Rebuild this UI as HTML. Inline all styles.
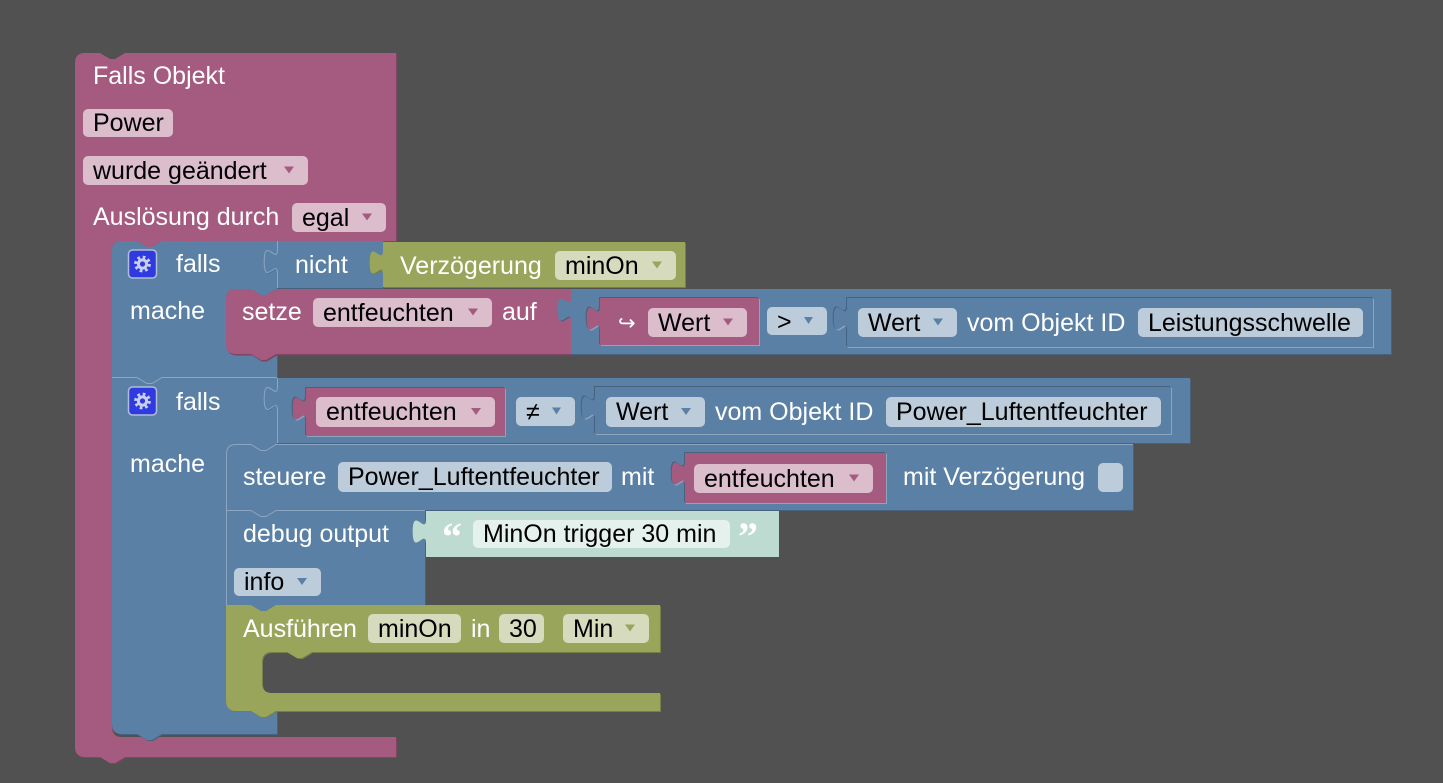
<!DOCTYPE html>
<html><head><meta charset="utf-8">
<style>
html,body{margin:0;padding:0;background:#515151;}
svg{display:block}
text{font-family:"Liberation Sans",Arial,sans-serif;font-size:25px}
.l{fill:#fff}
.f{fill:#000}
</style></head><body>
<svg width="1443" height="783" viewBox="0 0 1443 783" xmlns="http://www.w3.org/2000/svg">
<rect width="1443" height="783" fill="#515151"/>

<!-- Pink main event block -->
<path transform="translate(1,1)" fill="#7f4563" d="M75,63 Q75,53 85,53 L100,53 L110,59 L115,59 L125,53 L396,53 L396,241 L162,241 L152,247 L147,247 L137,241 L122,241 Q112,241 112,251 L112,727 Q112,737 122,737 L396,737 L396,757 L125,757 L115,763 L110,763 L100,757 L85,757 Q75,757 75,747 Z"/>
<path fill="#a55b80" d="M75,63 Q75,53 85,53 L100,53 L110,59 L115,59 L125,53 L396,53 L396,241 L162,241 L152,247 L147,247 L137,241 L122,241 Q112,241 112,251 L112,727 Q112,737 122,737 L396,737 L396,757 L125,757 L115,763 L110,763 L100,757 L85,757 Q75,757 75,747 Z"/>

<!-- Blue falls-1 -->
<path transform="translate(1,1)" fill="#46627f" d="M112,251 Q112,241 122,241 L137,241 L147,247 L152,247 L162,241 L277,241 L277,289 L276,289 L266,295 L261,295 L251,289 L236,289 Q226,289 226,299 L226,344 Q226,354 236,354 L277,354 L277,377 L162,377 L152,383 L147,383 L137,377 L112,377 Z"/>
<path fill="#5b80a5" d="M112,251 Q112,241 122,241 L137,241 L147,247 L152,247 L162,241 L277,241 L277,289 L276,289 L266,295 L261,295 L251,289 L236,289 Q226,289 226,299 L226,344 Q226,354 236,354 L277,354 L277,377 L162,377 L152,383 L147,383 L137,377 L112,377 Z"/>

<!-- nicht -->
<path transform="translate(1,1)" fill="#46627f" d="M277,241H383V288H277V274c0,-16.7 -13.3,13.3 -13.3,-12.5s13.3,4.2 13.3,-12.5Z"/>
<path fill="#5b80a5" d="M277,241H383V288H277V274c0,-16.7 -13.3,13.3 -13.3,-12.5s13.3,4.2 13.3,-12.5Z"/>
<path fill="none" stroke="#8ca6c0" stroke-width="1" d="M277.5,241V249c0,16.7 -13.3,-13.3 -13.3,12.5s13.3,-4.2 13.3,12.5V288"/>

<!-- Verzögerung olive -->
<path transform="translate(1,1)" fill="#757f46" d="M383,242H685V287H383V275c0,-16.7 -13.3,13.3 -13.3,-12.5s13.3,4.2 13.3,-12.5Z"/>
<path fill="#99a55b" d="M383,242H685V287H383V275c0,-16.7 -13.3,13.3 -13.3,-12.5s13.3,4.2 13.3,-12.5Z"/>

<!-- setze pink -->
<path transform="translate(1,1.5)" fill="#7f4563" d="M226,299 Q226,289 236,289 L251,289 L261,295 L266,295 L276,289 L571,289 L571,354 L276,354 L266,360 L261,360 L251,354 L236,354 Q226,354 226,344 Z"/>
<path fill="#a55b80" d="M226,299 Q226,289 236,289 L251,289 L261,295 L266,295 L276,289 L571,289 L571,354 L276,354 L266,360 L261,360 L251,354 L236,354 Q226,354 226,344 Z"/>

<!-- comparison 1 -->
<path transform="translate(1,1)" fill="#46627f" d="M571,289H1391V354H571V322c0,-16.7 -13.3,13.3 -13.3,-12.5s13.3,4.2 13.3,-12.5Z"/>
<path fill="#5b80a5" d="M571,289H1391V354H571V322c0,-16.7 -13.3,13.3 -13.3,-12.5s13.3,4.2 13.3,-12.5Z"/>

<!-- Wert pink (inline) -->
<path transform="translate(1,1)" fill="#8ca6c0" d="M600,298H759V345H600V331c0,-16.7 -13.3,13.3 -13.3,-12.5s13.3,4.2 13.3,-12.5Z"/>
<path transform="translate(-1,-1)" fill="#46627f" d="M600,298H759V345H600V331c0,-16.7 -13.3,13.3 -13.3,-12.5s13.3,4.2 13.3,-12.5Z"/>
<path fill="#a55b80" d="M600,298H759V345H600V331c0,-16.7 -13.3,13.3 -13.3,-12.5s13.3,4.2 13.3,-12.5Z"/>

<!-- inner blue 1 -->
<path transform="translate(1,1)" fill="#8ca6c0" d="M847,298H1373V347H847V331c0,-16.7 -13.3,13.3 -13.3,-12.5s13.3,4.2 13.3,-12.5Z"/>
<path transform="translate(-1,-1)" fill="#46627f" d="M847,298H1373V347H847V331c0,-16.7 -13.3,13.3 -13.3,-12.5s13.3,4.2 13.3,-12.5Z"/>
<path fill="#5b80a5" d="M847,298H1373V347H847V331c0,-16.7 -13.3,13.3 -13.3,-12.5s13.3,4.2 13.3,-12.5Z"/>

<!-- Blue falls-2 -->
<path transform="translate(1,1)" fill="#46627f" d="M112,377 L137,377 L147,383 L152,383 L162,377 L277,377 L277,444 L276,444 L266,450 L261,450 L251,444 L236,444 Q226,444 226,454 L226,701 Q226,711 236,711 L277,711 L277,734 L162,734 L152,740 L147,740 L137,734 L122,734 Q112,734 112,724 Z"/>
<path fill="#5b80a5" d="M112,377 L137,377 L147,383 L152,383 L162,377 L277,377 L277,444 L276,444 L266,450 L261,450 L251,444 L236,444 Q226,444 226,454 L226,701 Q226,711 236,711 L277,711 L277,734 L162,734 L152,740 L147,740 L137,734 L122,734 Q112,734 112,724 Z"/>
<path fill="none" stroke="#8ca6c0" stroke-width="1" d="M112,377.5 L137,377.5 L147,383.5 L152,383.5 L162,377.5 L277,377.5"/>

<!-- comparison 2 -->
<path transform="translate(1,1)" fill="#46627f" d="M277,378H1190V443H277V411c0,-16.7 -13.3,13.3 -13.3,-12.5s13.3,4.2 13.3,-12.5Z"/>
<path fill="#5b80a5" d="M277,378H1190V443H277V411c0,-16.7 -13.3,13.3 -13.3,-12.5s13.3,4.2 13.3,-12.5Z"/>
<path fill="none" stroke="#8ca6c0" stroke-width="1" d="M277.5,378V386c0,16.7 -13.3,-13.3 -13.3,12.5s13.3,-4.2 13.3,12.5V443"/>

<!-- entfeuchten pink 2 (inline) -->
<path transform="translate(1,1)" fill="#8ca6c0" d="M306,388H505V436H306V421c0,-16.7 -13.3,13.3 -13.3,-12.5s13.3,4.2 13.3,-12.5Z"/>
<path transform="translate(-1,-1)" fill="#46627f" d="M306,388H505V436H306V421c0,-16.7 -13.3,13.3 -13.3,-12.5s13.3,4.2 13.3,-12.5Z"/>
<path fill="#a55b80" d="M306,388H505V436H306V421c0,-16.7 -13.3,13.3 -13.3,-12.5s13.3,4.2 13.3,-12.5Z"/>

<!-- inner blue 2 -->
<path transform="translate(1,1)" fill="#8ca6c0" d="M595,387H1171V434H595V420c0,-16.7 -13.3,13.3 -13.3,-12.5s13.3,4.2 13.3,-12.5Z"/>
<path transform="translate(-1,-1)" fill="#46627f" d="M595,387H1171V434H595V420c0,-16.7 -13.3,13.3 -13.3,-12.5s13.3,4.2 13.3,-12.5Z"/>
<path fill="#5b80a5" d="M595,387H1171V434H595V420c0,-16.7 -13.3,13.3 -13.3,-12.5s13.3,4.2 13.3,-12.5Z"/>

<!-- steuere -->
<path transform="translate(1,1)" fill="#46627f" d="M226,454 Q226,444 236,444 L251,444 L261,450 L266,450 L276,444 L1133,444 L1133,510 L276,510 L266,516 L261,516 L251,510 L226,510 Z"/>
<path fill="#5b80a5" d="M226,454 Q226,444 236,444 L251,444 L261,450 L266,450 L276,444 L1133,444 L1133,510 L276,510 L266,516 L261,516 L251,510 L226,510 Z"/>
<path fill="none" stroke="#8ca6c0" stroke-width="1" d="M226.5,510V454 Q226.5,444.5 236,444.5 L251,444.5 L261,450.5 L266,450.5 L276,444.5 L1133,444.5"/>

<!-- entfeuchten pink 3 (inline) -->
<path transform="translate(1,1)" fill="#8ca6c0" d="M685,453H886V503H685V486c0,-16.7 -13.3,13.3 -13.3,-12.5s13.3,4.2 13.3,-12.5Z"/>
<path transform="translate(-1,-1)" fill="#46627f" d="M685,453H886V503H685V486c0,-16.7 -13.3,13.3 -13.3,-12.5s13.3,4.2 13.3,-12.5Z"/>
<path fill="#a55b80" d="M685,453H886V503H685V486c0,-16.7 -13.3,13.3 -13.3,-12.5s13.3,4.2 13.3,-12.5Z"/>

<!-- debug -->
<path transform="translate(1,1)" fill="#46627f" d="M226,510 L251,510 L261,516 L266,516 L276,510 L425,510 L425,605 L276,605 L266,611 L261,611 L251,605 L226,605 Z"/>
<path fill="#5b80a5" d="M226,510 L251,510 L261,516 L266,516 L276,510 L425,510 L425,605 L276,605 L266,611 L261,611 L251,605 L226,605 Z"/>
<path fill="none" stroke="#8ca6c0" stroke-width="1" d="M226.5,605V510.5 L251,510.5 L261,516.5 L266,516.5 L276,510.5 L425,510.5"/>

<!-- mint text shadow block -->
<path fill="#bddbd1" d="M426,511H779V557H426V544c0,-16.7 -13.3,13.3 -13.3,-12.5s13.3,4.2 13.3,-12.5Z"/>

<!-- Ausführen olive -->
<path transform="translate(1,1)" fill="#757f46" d="M226,605 L251,605 L261,611 L266,611 L276,605 L660,605 L660,652 L312,652 L302,658 L297,658 L287,652 L272,652 Q262,652 262,662 L262,683 Q262,693 272,693 L660,693 L660,711 L276,711 L266,717 L261,717 L251,711 L236,711 Q226,711 226,701 Z"/>
<path fill="#99a55b" d="M226,605 L251,605 L261,611 L266,611 L276,605 L660,605 L660,652 L312,652 L302,658 L297,658 L287,652 L272,652 Q262,652 262,662 L262,683 Q262,693 272,693 L660,693 L660,711 L276,711 L266,717 L261,717 L251,711 L236,711 Q226,711 226,701 Z"/>

<!-- gear icons -->
<g transform="translate(142.5,264)">
<rect x="-14" y="-14" width="28" height="28" rx="4" fill="#2f3be0" stroke="#b0bcd8" stroke-width="1.5"/>
<circle r="6.8" fill="none" stroke="#c8d0ee" stroke-width="3.2" stroke-dasharray="2.67 2.67"/>
<circle r="5.6" fill="#c8d0ee"/>
<circle r="2.6" fill="#2f3be0"/>
</g>
<g transform="translate(142.5,401)">
<rect x="-14" y="-14" width="28" height="28" rx="4" fill="#2f3be0" stroke="#b0bcd8" stroke-width="1.5"/>
<circle r="6.8" fill="none" stroke="#c8d0ee" stroke-width="3.2" stroke-dasharray="2.67 2.67"/>
<circle r="5.6" fill="#c8d0ee"/>
<circle r="2.6" fill="#2f3be0"/>
</g>

<!-- Pink fields -->
<g fill="#dbbdcc">
<rect x="83" y="109" width="90" height="28" rx="5"/>
<rect x="83" y="156" width="225" height="29" rx="5"/>
<rect x="292" y="203" width="94" height="29" rx="5"/>
<rect x="313" y="298" width="179" height="29" rx="5"/>
<rect x="648" y="308" width="99" height="29" rx="5"/>
<rect x="316" y="397" width="179" height="30" rx="5"/>
<rect x="694" y="464" width="179" height="29" rx="5"/>
</g>
<g fill="#a55b80">
<polygon points="284,166.5 294,166.5 289,173.5"/>
<polygon points="362,213.5 372,213.5 367,220.5"/>
<polygon points="468,308.5 478,308.5 473,315.5"/>
<polygon points="723,318.5 733,318.5 728,325.5"/>
<polygon points="471,408 481,408 476,415"/>
<polygon points="849,474.5 859,474.5 854,481.5"/>
</g>

<!-- Blue fields -->
<g fill="#bdccdb">
<rect x="767" y="307" width="60" height="28" rx="5"/>
<rect x="858" y="308" width="99" height="29" rx="5"/>
<rect x="1138" y="308" width="225" height="29" rx="5"/>
<rect x="516" y="397" width="59" height="29" rx="5"/>
<rect x="606" y="397" width="99" height="30" rx="5"/>
<rect x="886" y="397" width="275" height="30" rx="5"/>
<rect x="338" y="462" width="274" height="30" rx="5"/>
<rect x="1098" y="463" width="25" height="29" rx="5"/>
<rect x="234" y="568" width="87" height="28" rx="5"/>
</g>
<g fill="#5b80a5">
<polygon points="804,317 813,317 808.5,324"/>
<polygon points="933,318.5 943,318.5 938,325.5"/>
<polygon points="552,407.5 561,407.5 556.5,414.5"/>
<polygon points="681,408 691,408 686,415"/>
<polygon points="297,578 307,578 302,585"/>
</g>

<!-- Olive fields -->
<g fill="#d6dbbd">
<rect x="555" y="251" width="121" height="29" rx="5"/>
<rect x="368" y="614" width="93" height="29" rx="5"/>
<rect x="499" y="614" width="45" height="29" rx="5"/>
<rect x="563" y="614" width="86" height="29" rx="5"/>
</g>
<g fill="#99a55b">
<polygon points="652,261.5 662,261.5 657,268.5"/>
<polygon points="625,624.5 635,624.5 630,631.5"/>
</g>

<!-- Mint field -->
<rect x="473" y="520" width="257" height="28" rx="5" fill="#e5f1ed"/>
<text x="442" y="550" style="font-family:'Liberation Serif',serif;font-weight:bold;font-size:40px" fill="#fff">“</text>
<text x="738" y="550" style="font-family:'Liberation Serif',serif;font-weight:bold;font-size:40px" fill="#fff">”</text>

<!-- White labels -->
<text class="l" x="93" y="84">Falls Objekt</text>
<text class="l" x="93" y="225">Auslösung durch</text>
<text class="l" x="176" y="272">falls</text>
<text class="l" x="295" y="273">nicht</text>
<text class="l" x="400" y="274">Verzögerung</text>
<text class="l" x="130" y="319">mache</text>
<text class="l" x="242" y="320">setze</text>
<text class="l" x="502" y="320">auf</text>
<text x="618" y="330" style="font-family:'DejaVu Sans',sans-serif;font-size:21px" fill="#fff">↪</text>
<text class="l" x="967" y="331">vom Objekt ID</text>
<text class="l" x="176" y="410">falls</text>
<text class="l" x="715" y="420">vom Objekt ID</text>
<text class="l" x="130" y="472">mache</text>
<text class="l" x="243" y="485">steuere</text>
<text class="l" x="621" y="485">mit</text>
<text class="l" x="903" y="485">mit Verzögerung</text>
<text class="l" x="243" y="542">debug output</text>
<text class="l" x="243" y="637">Ausführen</text>
<text class="l" x="471" y="637">in</text>

<!-- Field texts -->
<text class="f" x="93" y="131">Power</text>
<text class="f" x="93" y="179">wurde geändert</text>
<text class="f" x="302" y="226">egal</text>
<text class="f" x="565" y="274">minOn</text>
<text class="f" x="323" y="321">entfeuchten</text>
<text class="f" x="658" y="331">Wert</text>
<text class="f" x="777" y="330">&gt;</text>
<text class="f" x="868" y="331">Wert</text>
<text class="f" x="1148" y="331">Leistungsschwelle</text>
<text class="f" x="326" y="420">entfeuchten</text>
<text class="f" x="526" y="420">≠</text>
<text class="f" x="616" y="420">Wert</text>
<text class="f" x="896" y="420">Power_Luftentfeuchter</text>
<text class="f" x="348" y="485">Power_Luftentfeuchter</text>
<text class="f" x="704" y="487">entfeuchten</text>
<text class="f" x="483" y="542">MinOn trigger 30 min</text>
<text class="f" x="244" y="590">info</text>
<text class="f" x="378" y="637">minOn</text>
<text class="f" x="509" y="637">30</text>
<text class="f" x="573" y="637">Min</text>
</svg>
</body></html>
